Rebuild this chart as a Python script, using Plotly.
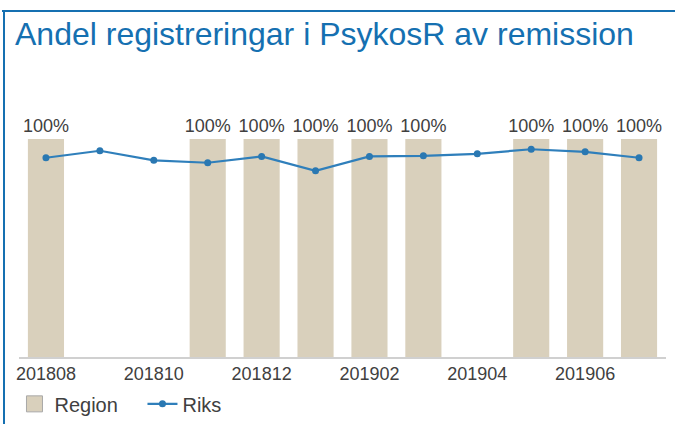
import plotly.graph_objects as go

# månader och värden
manader = ["201808", "201809", "201810", "201811", "201812", "201901",
           "201902", "201903", "201904", "201905", "201906", "201907"]
region = [1.0, None, None, 1.0, 1.0, 1.0, 1.0, 1.0, None, 1.0, 1.0, 1.0]
riks = [0.914, 0.946, 0.902, 0.891, 0.920, 0.854,
        0.920, 0.923, 0.932, 0.953, 0.941, 0.914]
tick_vals = ["201808", "201810", "201812", "201902", "201904", "201906"]

W, H = 676, 425
blue = "#1570b1"
beige = "#d9d0bc"
PL, PR, PT, PB = 19, 10, 139, 68
pw, ph = W - PL - PR, H - PT - PB

fig = go.Figure()

fig.add_trace(go.Bar(
    x=manader, y=region, name="Region", showlegend=False, legendgroup="region",
    marker=dict(color=beige, line=dict(width=0)),
    text=["100%" if v is not None else "" for v in region],
    textposition="outside", cliponaxis=False, constraintext="none",
    textfont=dict(size=18, color="#404040"),
))
# större symbol i legenden för Region
fig.add_trace(go.Scatter(
    x=[None], y=[None], name="Region", mode="markers", legendgroup="region",
    marker=dict(symbol="square", size=16, color=beige,
                line=dict(color="#a8a8a8", width=1)),
))

fig.add_trace(go.Scatter(
    x=manader, y=riks, name="Riks", mode="lines+markers",
    line=dict(color="#2f7fbb", width=2.2),
    marker=dict(color="#2a78b2", size=7),
))

fig.update_layout(
    width=W, height=H,
    margin=dict(l=PL, r=PR, t=PT, b=PB, autoexpand=False),
    paper_bgcolor="white", plot_bgcolor="white",
    font=dict(family="Liberation Sans, Arial", color="#404040"),
    bargap=0.33,
    showlegend=True,
    legend=dict(orientation="h", x=-0.007, xanchor="left", y=-0.215, yanchor="middle",
                entrywidth=83, font=dict(size=20, color="#404040")),
    title=dict(text="Andel registreringar i PsykosR av remission",
               font=dict(size=32, color=blue, family="Liberation Sans, Arial"),
               x=15 / W, xanchor="left", xref="container",
               y=1 - 34 / H, yanchor="middle", yref="container"),
    shapes=[
        # ram upptill och till vänster
        dict(type="rect", xref="paper", yref="paper",
             x0=(2 - PL) / pw, x1=(675 - PL) / pw,
             y0=1 + (PT - 10) / ph, y1=1 + (PT - 12) / ph,
             fillcolor=blue, line=dict(width=0)),
        dict(type="rect", xref="paper", yref="paper",
             x0=(3 - PL) / pw, x1=(5 - PL) / pw,
             y0=1 + (PT - 10) / ph, y1=-(H - 1 - (H - PB)) / ph,
             fillcolor=blue, line=dict(width=0)),
    ],
)

fig.update_xaxes(
    type="category", tickvals=tick_vals, ticktext=tick_vals,
    range=[-0.5, len(manader) - 0.5],
    showline=True, linecolor="#d0d0d0", linewidth=1.5,
    showgrid=False, ticks="", tickfont=dict(size=18, color="#404040"),
)
fig.update_yaxes(range=[0, 1], visible=False, showgrid=False)

fig.write_html("out.html", config={"displayModeBar": False},
               post_script="document.body.style.margin='0';document.body.style.overflow='hidden';")
